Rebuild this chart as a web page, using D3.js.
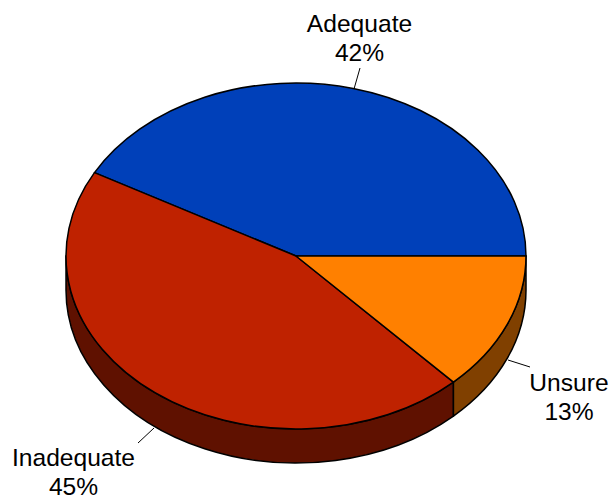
<!DOCTYPE html>
<html>
<head>
<meta charset="utf-8">
<style>html,body{margin:0;padding:0;background:#fff}svg{display:block}text{font-family:"Liberation Sans",Arial,sans-serif;font-size:24.6px;fill:#000;text-anchor:middle}</style>
<script src="https://cdnjs.cloudflare.com/ajax/libs/d3/7.8.5/d3.min.js"></script>
</head>
<body>
<script>
const categories = ["Adequate", "Inadequate", "Unsure"];
const shareValues = [42, 45, 13];
const topColors = ["#0040B9", "#BF2200", "#FF8000"];
const sideColors = ["#002060", "#5F1100", "#804000"];

const W = 615, H = 500, cx = 296, cy = 256, rx = 230, ry = 173, depth = 34;
const svg = d3.select("body").append("svg").attr("width", W).attr("height", H);

const pie = d3.pie().sort(null).startAngle(Math.PI / 2).endAngle(Math.PI / 2 - 2 * Math.PI);
const slices = pie(shareValues);
const px = a => cx + rx * Math.sin(a), py = a => cy - ry * Math.cos(a);

// Side walls (front half only: angles between -3π/2 and -π/2)
slices.forEach((s, i) => {
  const hi = Math.min(s.startAngle, -Math.PI / 2), lo = Math.max(s.endAngle, -3 * Math.PI / 2);
  if (lo >= hi) return;
  svg.append("path")
    .attr("d", `M${px(hi)},${py(hi)}A${rx},${ry} 0 0 0 ${px(lo)},${py(lo)}L${px(lo)},${py(lo) + depth}A${rx},${ry} 0 0 1 ${px(hi)},${py(hi) + depth}Z`)
    .attr("fill", sideColors[i]).attr("stroke", "#000").attr("stroke-width", 1.5).attr("stroke-linejoin", "round");
});

// Top face
slices.forEach((s, i) => {
  const large = Math.abs(s.endAngle - s.startAngle) > Math.PI ? 1 : 0;
  svg.append("path")
    .attr("d", `M${cx},${cy}L${px(s.startAngle)},${py(s.startAngle)}A${rx},${ry} 0 ${large} 0 ${px(s.endAngle)},${py(s.endAngle)}Z`)
    .attr("fill", topColors[i]).attr("stroke", "#000").attr("stroke-width", 1.5).attr("stroke-linejoin", "round");
});

// Labels and leader lines
const labelCenters = [[359.5, 32], [73.5, 466], [569, 391]];
const leaders = [[[360, 68], [354, 89]], [[138, 443], [154, 428]], [[530, 367], [508, 360]]];
categories.forEach((c, i) => {
  const [x, y] = labelCenters[i];
  svg.append("text").attr("x", x).attr("y", y).text(c);
  svg.append("text").attr("x", x).attr("y", y + 29).text(shareValues[i] + "%");
  svg.append("path").attr("d", d3.line()(leaders[i])).attr("stroke", "#000").attr("stroke-width", 1).attr("fill", "none");
});
</script>
</body>
</html>
